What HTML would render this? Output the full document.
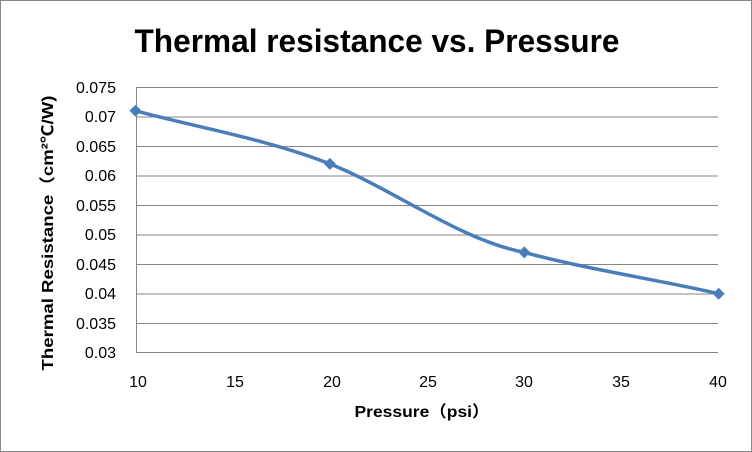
<!DOCTYPE html>
<html><head><meta charset="utf-8"><style>body{margin:0;background:#fff}svg{display:block}</style></head><body>
<svg width="752" height="452" xmlns="http://www.w3.org/2000/svg" font-family="Liberation Sans, Noto Sans CJK SC, sans-serif">
<rect x="0.5" y="0.5" width="751" height="451" fill="#fff" stroke="#868686"/>
<text x="377" y="52" text-anchor="middle" font-size="32" font-weight="bold" fill="#000" textLength="485" lengthAdjust="spacingAndGlyphs">Thermal resistance vs. Pressure</text>
<g stroke="#868686" stroke-width="1">
<line x1="136" y1="87.5" x2="718" y2="87.5"/>
<line x1="136" y1="117" x2="718" y2="117"/>
<line x1="136" y1="146.5" x2="718" y2="146.5"/>
<line x1="136" y1="176" x2="718" y2="176"/>
<line x1="136" y1="205.5" x2="718" y2="205.5"/>
<line x1="136" y1="235" x2="718" y2="235"/>
<line x1="136" y1="264.5" x2="718" y2="264.5"/>
<line x1="136" y1="294" x2="718" y2="294"/>
<line x1="136" y1="323.5" x2="718" y2="323.5"/>
<line x1="136" y1="352.5" x2="718" y2="352.5"/>
<line x1="136.5" y1="87" x2="136.5" y2="353"/>
</g>
<g font-size="16" fill="#000" text-anchor="end">
<text x="116" y="93">0.075</text><text x="116" y="122">0.07</text><text x="116" y="152">0.065</text><text x="116" y="181">0.06</text><text x="116" y="211">0.055</text><text x="116" y="240">0.05</text><text x="116" y="270">0.045</text><text x="116" y="299">0.04</text><text x="116" y="329">0.035</text><text x="116" y="358">0.03</text>
</g>
<g font-size="16" fill="#000" text-anchor="middle">
<text x="138" y="387">10</text><text x="235" y="387">15</text><text x="332" y="387">20</text><text x="428" y="387">25</text><text x="524" y="387">30</text><text x="621" y="387">35</text><text x="718" y="387">40</text>
</g>
<text x="422" y="417" text-anchor="middle" font-size="16" font-weight="bold" textLength="135" lengthAdjust="spacingAndGlyphs">Pressure（psi）</text>
<text transform="translate(53,233) rotate(-90)" text-anchor="middle" font-size="16" font-weight="bold" textLength="275" lengthAdjust="spacingAndGlyphs">Thermal Resistance（cm²℃/W)</text>
<path d="M135.5,110.8 C200,128 270,140 329.9,163.9 C395,190 460,240 524.3,252.4 C590,270 660,280 718.7,293.7" fill="none" stroke="#4a7ebb" stroke-width="3.5"/>
<g fill="#4a7ebb">
<path d="M135.5,104.8 l6,6 l-6,6 l-6,-6z"/>
<path d="M329.9,157.9 l6,6 l-6,6 l-6,-6z"/>
<path d="M524.3,246.4 l6,6 l-6,6 l-6,-6z"/>
<path d="M718.7,287.7 l6,6 l-6,6 l-6,-6z"/>
</g>
</svg>
</body></html>
